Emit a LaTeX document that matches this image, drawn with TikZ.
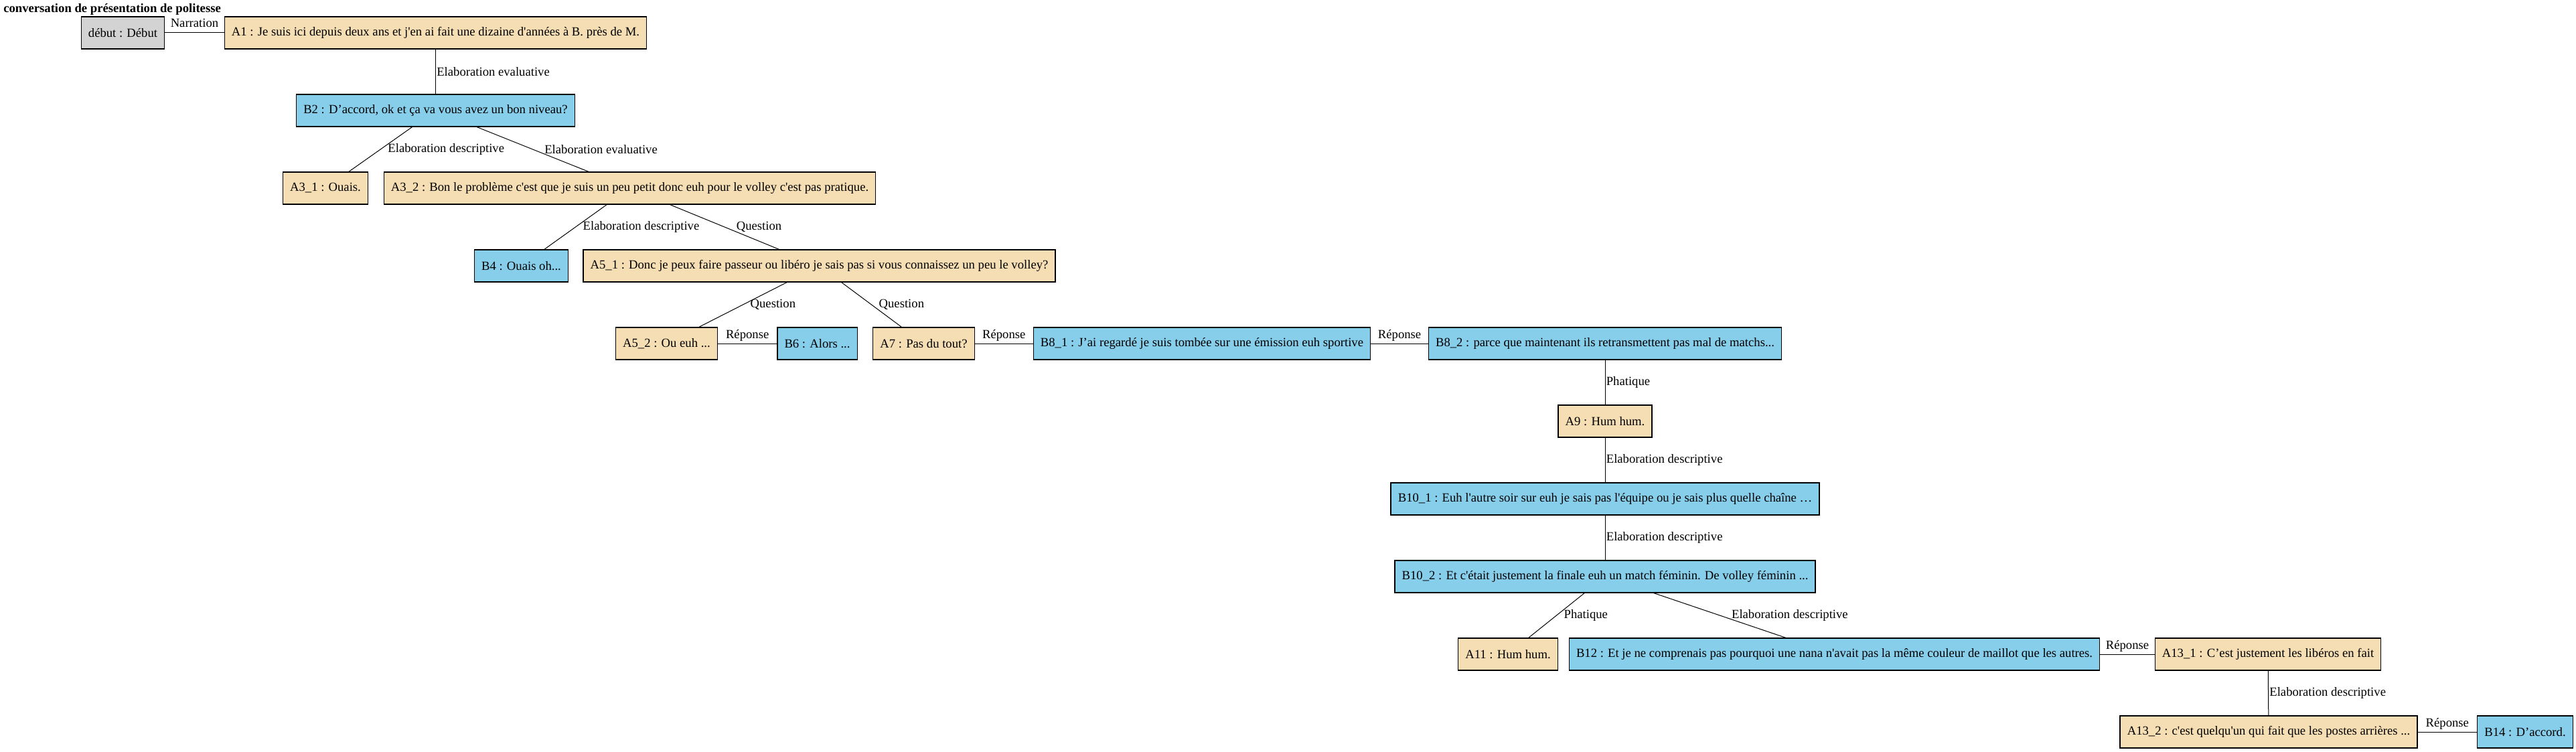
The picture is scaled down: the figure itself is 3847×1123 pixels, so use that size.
\documentclass[tikz,border=0pt]{standalone}
\usepackage{fontspec}
\setmainfont{Liberation Serif}[Ligatures=TeXOff]
\usepackage{tikz}
\definecolor{wheat}{HTML}{F5DEB3}
\definecolor{skyblue}{HTML}{87CEEB}
\definecolor{lightgrey}{HTML}{D3D3D3}
\newcommand{\dfont}{\fontsize{14pt}{17pt}\selectfont}
\tikzset{
turnbox/.style={
  draw,
  rectangle,
  line width=1pt,
  minimum height=36pt,
  inner xsep=8pt,
  font=\dfont
},
aturn/.style={turnbox,fill=wheat},
bturn/.style={turnbox,fill=skyblue},
debutbox/.style={turnbox,fill=lightgrey},
lbl/.style={anchor=west,inner sep=0pt,font=\dfont,xshift=1pt},
lbl left/.style={lbl,xshift=7pt},
lbl right/.style={lbl,xshift=12pt},
hlbl/.style={anchor=base,inner sep=0pt,yshift=6pt,font=\dfont},
}

\begin{document}
\begin{tikzpicture}[x=0.75pt,y=-0.75pt]
\useasboundingbox (0,0) rectangle (3847,1123);
\node[anchor=west,inner sep=0pt,font=\bfseries\dfont] (titre) at (5,14) {conversation de présentation de politesse};
% the turns
\node[debutbox] (debut) at (183.5,49) {début : Début};
\node[aturn] (a1) at (650.5,49) {A1 : Je suis ici depuis deux ans et j'en ai fait une dizaine d'années à B. près de M.};
\node[bturn] (b2) at (650.5,165) {B2 : D’accord, ok et ça va vous avez un bon niveau?};
\node[aturn] (a31) at (486,281) {A3\_1 : Ouais.};
\node[aturn] (a32) at (940.5,281) {A3\_2 : Bon le problème c'est que je suis un peu petit donc euh pour le volley c'est pas pratique.};
\node[bturn] (b4) at (778.5,397) {B4 : Ouais oh...};
\node[aturn] (a51) at (1223.5,397) {A5\_1 : Donc je peux faire passeur ou libéro je sais pas si vous connaissez un peu le volley?};
\node[aturn] (a52) at (995.5,513) {A5\_2 : Ou euh ...};
\node[bturn] (b6) at (1220.5,513) {B6 : Alors ...};
\node[aturn] (a7) at (1379.5,513) {A7 : Pas du tout?};
\node[bturn] (b81) at (1795,513) {B8\_1 : J’ai regardé je suis tombée sur une émission euh sportive};
\node[bturn] (b82) at (2397,513) {B8\_2 : parce que maintenant ils retransmettent pas mal de matchs...};
\node[aturn] (a9) at (2397,629) {A9 : Hum hum.};
\node[bturn] (b101) at (2397,745) {B10\_1 : Euh l'autre soir sur euh je sais pas l'équipe ou je sais plus quelle chaîne …};
\node[bturn] (b102) at (2397,861) {B10\_2 : Et c'était justement la finale euh un match féminin. De volley féminin ...};
\node[aturn] (a11) at (2252,977) {A11 : Hum hum.};
\node[bturn] (b12) at (2739.5,977) {B12 : Et je ne comprenais pas pourquoi une nana n'avait pas la même couleur de maillot que les autres.};
\node[aturn] (a131) at (3387,977) {A13\_1 : C’est justement les libéros en fait};
\node[aturn] (a132) at (3388,1093) {A13\_2 : c'est quelqu'un qui fait que les postes arrières ...};
\node[bturn] (b14) at (3771,1093) {B14 : D’accord.};
% the links
\begin{scope}[line width=0.75pt]
\draw (debut) -- node[hlbl] {Narration} (a1);
\draw (a1) -- node[lbl] {Elaboration evaluative} (b2);
\draw (b2) -- node[lbl left] {Elaboration descriptive} (a31);
\draw (b2) -- node[lbl right] {Elaboration evaluative} (a32);
\draw (a32) -- node[lbl left] {Elaboration descriptive} (b4);
\draw (a32) -- node[lbl right] {Question} (a51);
\draw (a51) -- node[lbl left] {Question} (a52);
\draw (a51) -- node[lbl left] {Question} (a7);
\draw (a52) -- node[hlbl] {Réponse} (b6);
\draw (a7) -- node[hlbl] {Réponse} (b81);
\draw (b81) -- node[hlbl] {Réponse} (b82);
\draw (b82) -- node[lbl] {Phatique} (a9);
\draw (a9) -- node[lbl] {Elaboration descriptive} (b101);
\draw (b101) -- node[lbl] {Elaboration descriptive} (b102);
\draw (b102) -- node[lbl left] {Phatique} (a11);
\draw (b102) -- node[lbl right] {Elaboration descriptive} (b12);
\draw (b12) -- node[hlbl] {Réponse} (a131);
\draw (a131) -- node[lbl] {Elaboration descriptive} (a132);
\draw (a132) -- node[hlbl] {Réponse} (b14);
\end{scope}
\end{tikzpicture}
\end{document}
